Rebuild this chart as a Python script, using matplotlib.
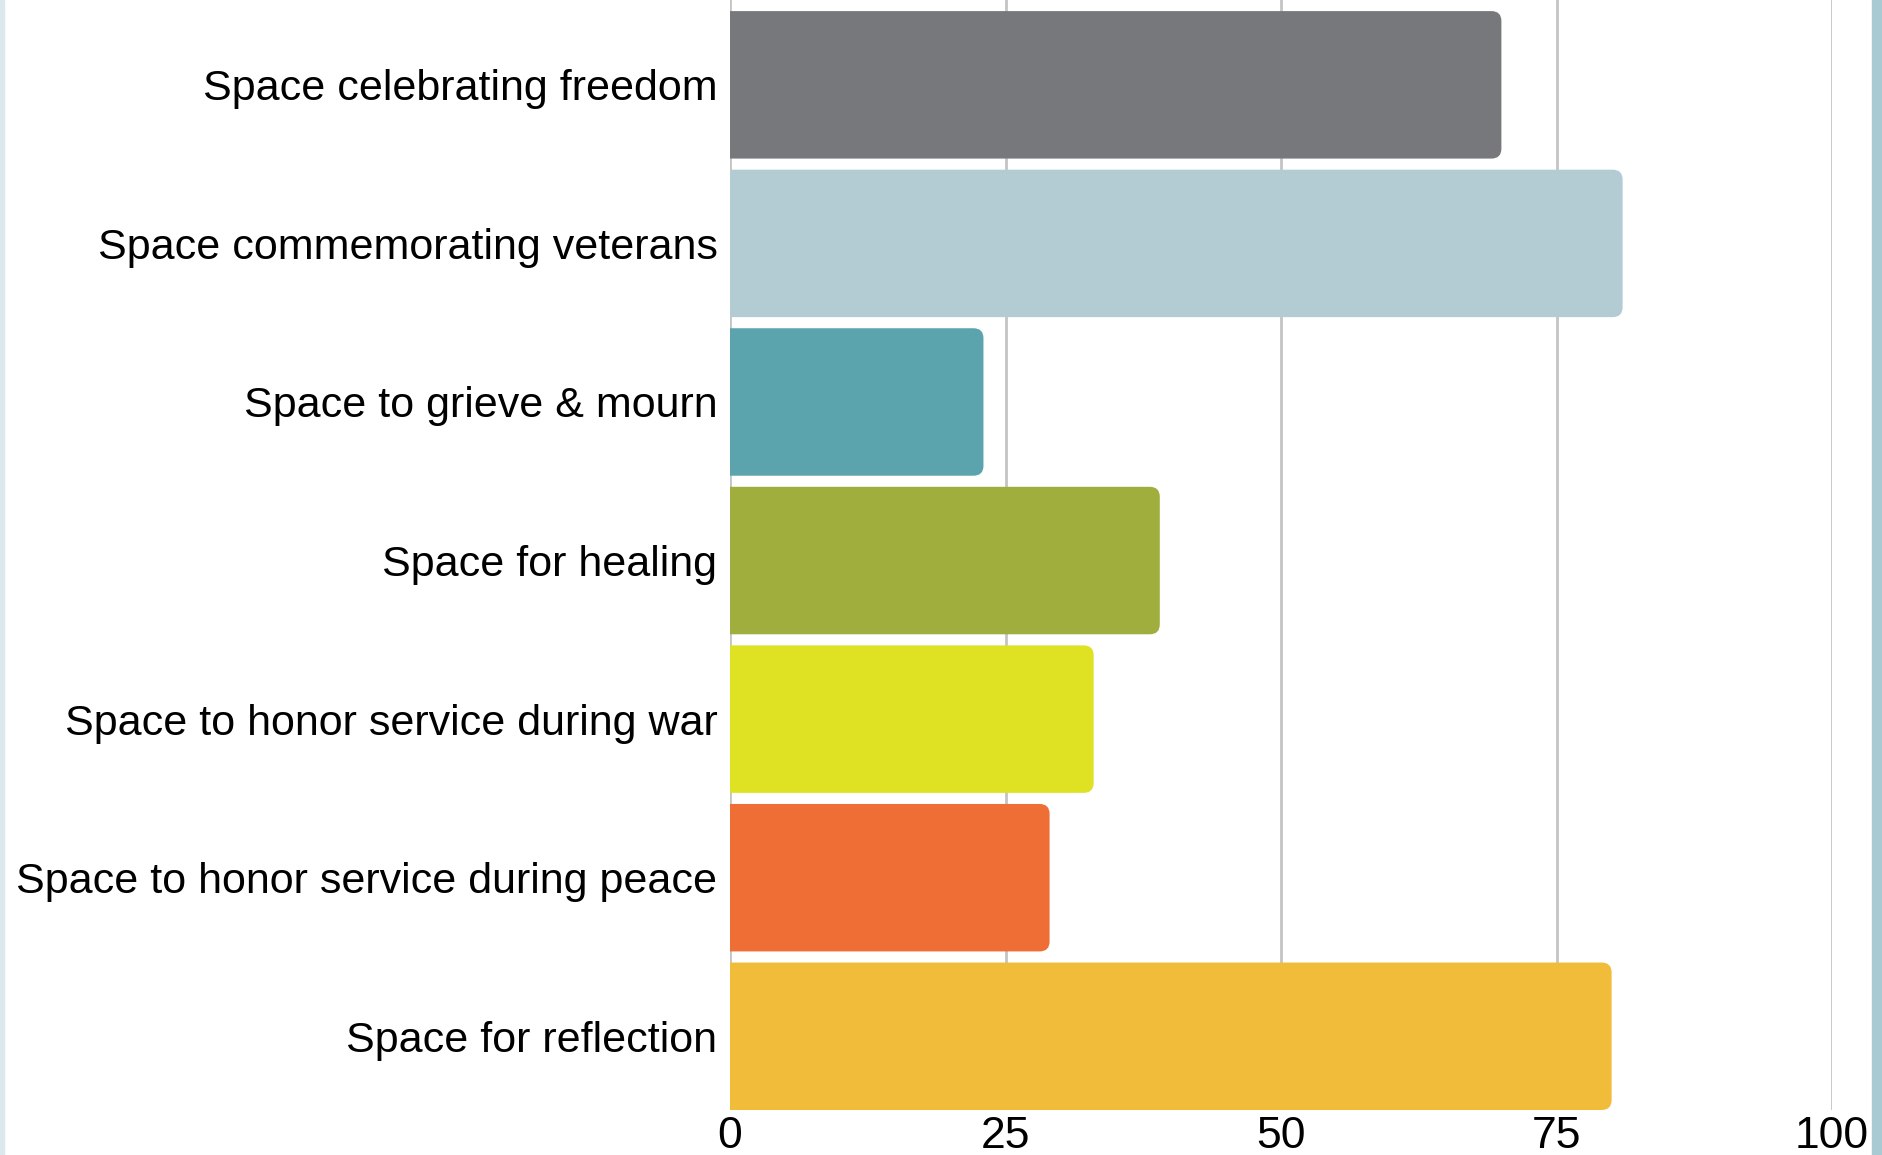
import matplotlib

matplotlib.use("Agg")
import matplotlib.pyplot as plt
from matplotlib.patches import Rectangle, FancyBboxPatch

plt.rcParams["font.family"] = ["Liberation Sans", "DejaVu Sans"]

labels = ["Space celebrating freedom", "Space commemorating veterans",
          "Space to grieve & mourn", "Space for healing",
          "Space to honor service during war", "Space to honor service during peace",
          "Space for reflection"]
values = [70, 81, 23, 39, 33, 29, 80]
colors = ["#77787c", "#b3ccd3", "#5ba3ad", "#9fae3c", "#dfe123", "#ee6e35", "#f2bc3b"]
ticks = [0, 25, 50, 75, 100]

fig = plt.figure(figsize=(18.82, 11.55), dpi=100)
ax = fig.add_axes([730 / 1882, 45 / 1155, 1102 / 1882, 1110 / 1155])

ys = list(range(len(labels)))
bars = ax.barh(ys, values, height=0.93, color=colors, zorder=2)
# swap the plain rectangles for ones with rounded right corners
# (left end pushed past 0 so only the right side shows rounding)
for b in bars:
    x, y, w, h = b.get_x(), b.get_y(), b.get_width(), b.get_height()
    rb = FancyBboxPatch((x - 3, y), w + 3, h,
                        boxstyle="round,pad=0,rounding_size=0.9",
                        mutation_aspect=11.02 / 158.6,
                        fc=b.get_facecolor(), ec="none", zorder=2)
    ax.add_patch(rb)
    b.set_visible(False)

ax.set_xlim(0, 100)
ax.set_ylim(6.465, -0.535)
ax.set_yticks(ys)
ax.set_yticklabels(labels, fontsize=31)
ax.set_xticks(ticks)
ax.set_xticklabels([str(t) for t in ticks], fontsize=32)
ax.tick_params(length=0)
ax.tick_params(axis="y", pad=9)
ax.tick_params(axis="x", pad=4)
ax.grid(axis="x", color="#c4c4c4", lw=2, zorder=1)
for s in ax.spines.values():
    s.set_visible(False)

# light blue page edges
fig.patches.append(Rectangle((1872 / 1882, 0), 10 / 1882, 1, transform=fig.transFigure,
                             color="#a9c9d3", zorder=0))
fig.patches.append(Rectangle((0, 0), 4 / 1882, 1, transform=fig.transFigure,
                             color="#dbe9ee", zorder=0))

fig.savefig("out.png", dpi=100)
